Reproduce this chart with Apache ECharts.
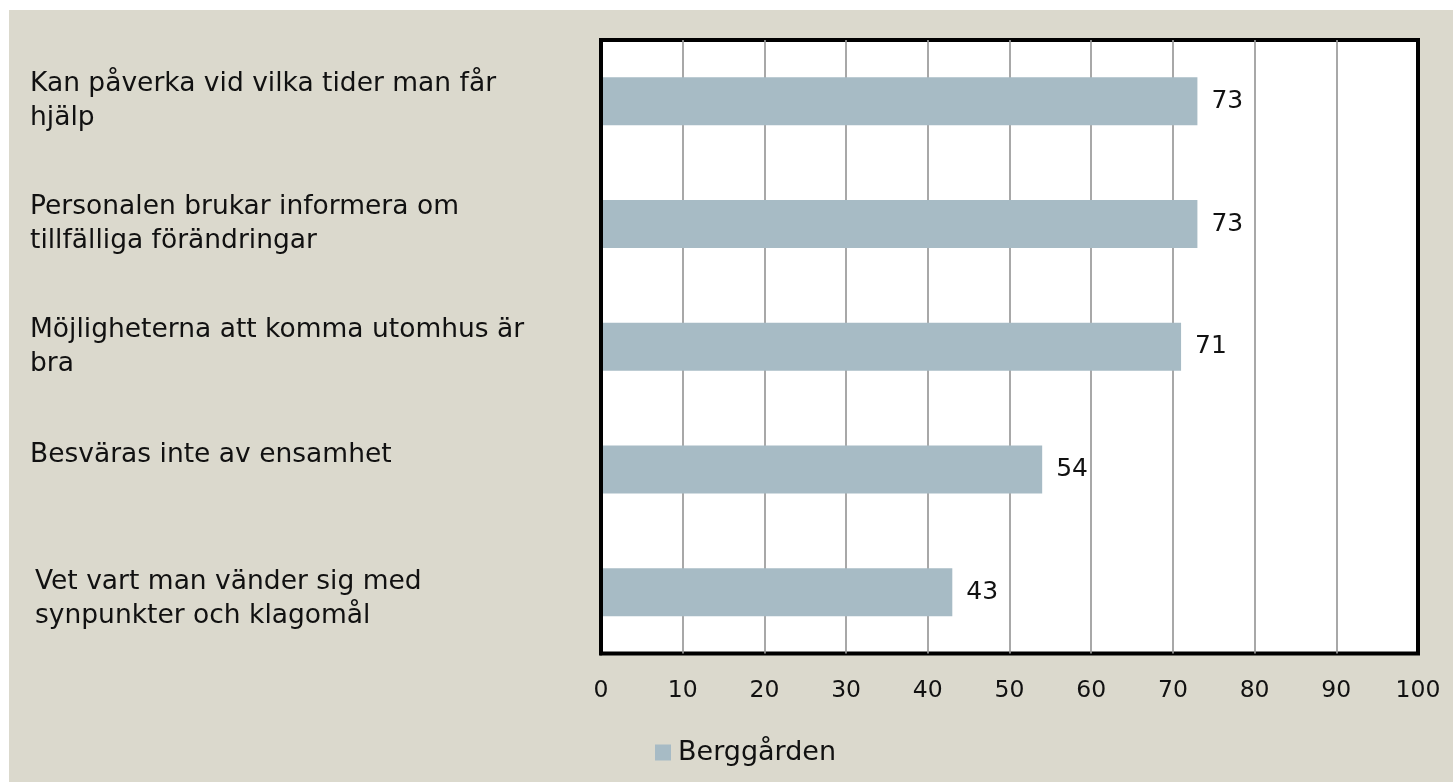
<!DOCTYPE html>
<html>
<head>
<meta charset="utf-8">
<script src="https://cdn.jsdelivr.net/npm/echarts@6/dist/echarts.min.js"></script>
<style>
html,body{margin:0;padding:0;background:#ffffff;}
#chart{position:absolute;left:9px;top:10px;width:1444px;height:772px;background:#dbd9cd;}
</style>
</head>
<body>
<div id="chart"></div>
<script>
const categories = [
  "Kan påverka vid vilka tider man får\nhjälp",
  "Personalen brukar informera om\ntillfälliga förändringar",
  "Möjligheterna att komma utomhus är\nbra",
  "Besväras inte av ensamhet",
  "Vet vart man vänder sig med\nsynpunkter och klagomål"
];
const values = [73, 73, 71, 54, 43];
const seriesName = "Berggården";
const xTicks = [0, 10, 20, 30, 40, 50, 60, 70, 80, 90, 100];

// small label nudges seen in the reference: [spacer above, spacer below, indent]
const labelNudge = [
  [0, 0, 0],
  [0, 0, 0],
  [0, 0, 0],
  [0, 28, 0],
  [14, 0, 5]
];

const FONT = "DejaVu Sans";
const chart = echarts.init(document.getElementById('chart'));
chart.setOption({
  animation: false,
  textStyle: {fontFamily: FONT},
  grid: {
    left: 592, top: 30, right: 35, bottom: 128.5,
    show: true, backgroundColor: '#ffffff', borderColor: '#000000', borderWidth: 4,
    containLabel: false, outerBoundsMode: 'none'
  },
  legend: {
    data: [seriesName],
    left: 641, top: 724,
    itemWidth: 16, itemHeight: 16, itemGap: 8,
    icon: 'rect',
    textStyle: {fontFamily: FONT, fontSize: 27, color: '#111', padding: [0, 0, 0, 2]}
  },
  xAxis: {
    type: 'value', min: xTicks[0], max: xTicks[xTicks.length - 1], interval: 10,
    axisLine: {show: false}, axisTick: {show: false},
    axisLabel: {fontFamily: FONT, fontSize: 23.5, color: '#111', margin: 25},
    splitLine: {show: true, showMinLine: false, showMaxLine: false, lineStyle: {color: '#999999', width: 1.7}}
  },
  yAxis: {
    type: 'category', inverse: true, z: 5,
    data: categories.map((c, i) => ({
      value: c,
      textStyle: {align: 'left', padding: [0, 0, 0, labelNudge[i][2]]}
    })),
    axisLine: {show: true, lineStyle: {color: '#000000', width: 4}},
    axisTick: {show: false},
    axisLabel: {
      align: 'left', margin: 571, fontFamily: FONT, fontSize: 26.5, color: '#111',
      lineHeight: 34,
      formatter: (value, index) => {
        const n = labelNudge[index] || [0, 0, 0];
        let s = value;
        if (n[0]) s = '{top|}\n' + s;
        if (n[1]) s = s + '\n{bot|}';
        return s;
      },
      rich: {
        top: {lineHeight: 14, fontSize: 1},
        bot: {lineHeight: 28, fontSize: 1}
      }
    }
  },
  series: [{
    name: seriesName, type: 'bar', data: values, barWidth: 48,
    itemStyle: {color: '#a7bbc5'},
    label: {show: true, position: 'right', distance: 14, fontFamily: FONT, fontSize: 25, color: '#111'}
  }]
});
</script>
</body>
</html>
